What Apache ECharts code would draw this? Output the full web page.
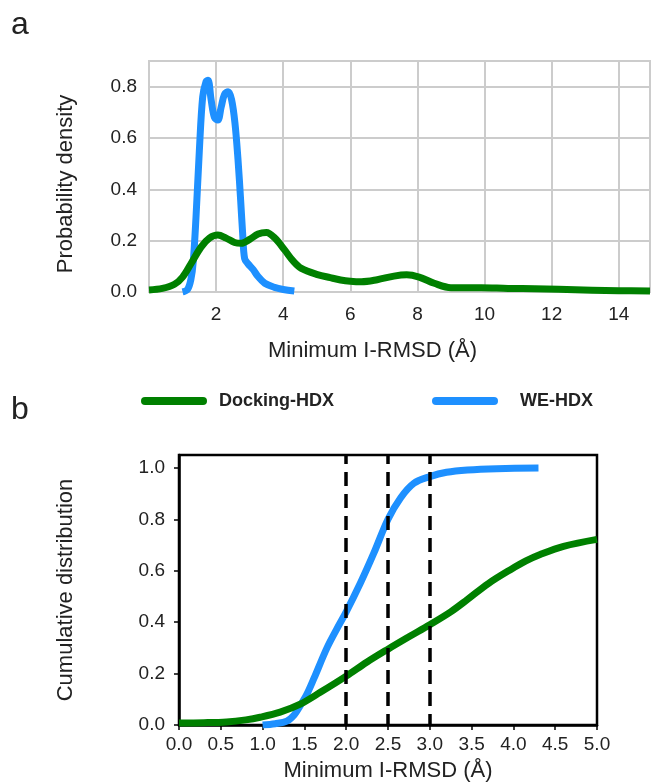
<!DOCTYPE html>
<html><head><meta charset="utf-8">
<script src="https://cdn.jsdelivr.net/npm/echarts@6/dist/echarts.min.js"></script>
<style>html,body{margin:0;padding:0;background:#fff}#c{width:653px;height:783px}</style>
</head><body><div id="c"></div>
<script>
// ---- data ----
const seriesNames = ['Docking-HDX', 'WE-HDX'];

// panel a: probability density vs minimum I-RMSD
const densDockX = [0.0, 0.4, 0.76, 1.0, 1.25, 1.55, 1.8, 2.05, 2.3, 2.55, 2.75, 3.0, 3.25, 3.5, 3.75, 4.04, 4.3, 4.54, 5.02, 5.4, 5.71, 6.0, 6.33, 6.8, 7.3, 7.68, 8.05, 8.5, 9.0, 9.5, 9.9, 10.7, 11.5, 12.2, 13.2, 14.0, 14.93];
const densDockY = [0.008, 0.014, 0.03, 0.058, 0.11, 0.175, 0.21, 0.222, 0.21, 0.193, 0.19, 0.205, 0.226, 0.232, 0.21, 0.164, 0.12, 0.092, 0.068, 0.056, 0.047, 0.042, 0.04, 0.048, 0.062, 0.067, 0.058, 0.034, 0.017, 0.017, 0.017, 0.014, 0.013, 0.011, 0.007, 0.005, 0.004];

const densWeX = [1.0, 1.15, 1.25, 1.32, 1.4, 1.5, 1.6, 1.7, 1.76, 1.85, 1.95, 2.05, 2.15, 2.25, 2.36, 2.46, 2.56, 2.65, 2.73, 2.79, 2.85, 2.95, 3.1, 3.25, 3.45, 3.74, 4.0, 4.33];
const densWeY = [0.0, 0.01, 0.05, 0.12, 0.29, 0.55, 0.76, 0.82, 0.825, 0.75, 0.68, 0.67, 0.72, 0.77, 0.78, 0.75, 0.66, 0.52, 0.36, 0.23, 0.13, 0.11, 0.088, 0.06, 0.034, 0.018, 0.01, 0.004];

// panel b: cumulative distribution
const cdfDockX = [0.0, 0.3, 0.57, 0.8, 0.97, 1.21, 1.45, 1.69, 2.0, 2.25, 2.5, 2.75, 3.0, 3.25, 3.45, 3.7, 3.97, 4.15, 4.32, 4.6, 5.0];
const cdfDockY = [0.008, 0.009, 0.012, 0.02, 0.03, 0.05, 0.081, 0.127, 0.19, 0.245, 0.295, 0.343, 0.39, 0.44, 0.488, 0.55, 0.605, 0.638, 0.663, 0.695, 0.722];

const cdfWeX = [1.0, 1.15, 1.29, 1.38, 1.45, 1.53, 1.61, 1.77, 1.89, 2.0, 2.17, 2.33, 2.5, 2.65, 2.81, 3.0, 3.2, 3.45, 3.8, 4.3];
const cdfWeY = [0.0, 0.005, 0.015, 0.04, 0.075, 0.12, 0.178, 0.3, 0.375, 0.44, 0.552, 0.668, 0.8, 0.883, 0.94, 0.966, 0.983, 0.992, 0.997, 0.999];

const thresholds = [2.0, 2.5, 3.0];

// tick labels
const xTicksA = [2, 4, 6, 8, 10, 12, 14];
const yTicksA = [0.0, 0.2, 0.4, 0.6, 0.8];
const yTicksB = [0.0, 0.2, 0.4, 0.6, 0.8, 1.0];

// ---- chart ----
const zip = (xs, ys) => xs.map((x, i) => [x, ys[i]]);
const FONT = '"Liberation Sans", Arial, sans-serif';
const GREEN = '#008000', BLUE = '#1e90ff', TXT = '#222222';
const legendIcon = 'path://M4 0H62A4 4 0 0 1 62 8H4A4 4 0 0 1 4 0Z';

const chart = echarts.init(document.getElementById('c'), null, {renderer: 'canvas'});

function lineSeries(name, data, color, xi, z) {
  return {
    name: name, type: 'line', data: data, xAxisIndex: xi, yAxisIndex: xi,
    smooth: 0.35, showSymbol: false, symbol: 'none', z: z,
    itemStyle: {color: color},
    lineStyle: {color: color, width: 7, cap: 'butt', join: 'round'},
    emphasis: {disabled: true}
  };
}

const option = {
  animation: false,
  textStyle: {fontFamily: FONT},
  graphic: [
    {type: 'text', left: 11, top: 9, style: {text: 'a', font: '32px ' + FONT, fill: TXT}},
    {type: 'text', left: 11, top: 394, style: {text: 'b', font: '32px ' + FONT, fill: TXT}}
  ],
  legend: [
    {data: [seriesNames[0]], left: 141, top: 392, padding: 0, icon: legendIcon, itemWidth: 66, itemHeight: 8,
     selectedMode: false, textStyle: {fontSize: 18, fontWeight: 'bold', color: TXT, fontFamily: FONT, padding: [0, 0, 0, 7]}},
    {data: [seriesNames[1]], left: 432, top: 392, padding: 0, icon: legendIcon, itemWidth: 66, itemHeight: 8,
     selectedMode: false, textStyle: {fontSize: 18, fontWeight: 'bold', color: TXT, fontFamily: FONT, padding: [0, 0, 0, 17]}}
  ],
  grid: [
    {left: 149, top: 61, width: 501, height: 231, show: true, borderColor: '#cccccc', borderWidth: 2},
    {left: 179, top: 455, width: 418, height: 271, show: true, borderColor: '#000000', borderWidth: 2.5}
  ],
  xAxis: [
    {gridIndex: 0, type: 'value', min: 0, max: 14.93, interval: 2,
     axisLine: {show: false}, axisTick: {show: false, customValues: xTicksA},
     splitLine: {show: true, lineStyle: {color: '#cccccc', width: 2}},
     axisLabel: {customValues: xTicksA, fontSize: 19, color: TXT, margin: 13, fontFamily: FONT},
     name: 'Minimum I-RMSD (Å)', nameLocation: 'middle', nameGap: 48,
     nameTextStyle: {fontSize: 22, color: TXT, fontFamily: FONT, padding: [0, 54, 0, 0]}},
    {gridIndex: 1, type: 'value', min: 0, max: 5, interval: 0.5,
     axisLine: {show: true, lineStyle: {color: '#000', width: 2.5}},
     axisTick: {show: true, length: 5, lineStyle: {color: '#000', width: 1.5}},
     splitLine: {show: false},
     axisLabel: {fontSize: 19, color: TXT, margin: 10, fontFamily: FONT, formatter: v => v.toFixed(1)},
     name: 'Minimum I-RMSD (Å)', nameLocation: 'middle', nameGap: 35,
     nameTextStyle: {fontSize: 22, color: TXT, fontFamily: FONT}}
  ],
  yAxis: [
    {gridIndex: 0, type: 'value', min: 0, max: 0.9, interval: 0.2,
     axisLine: {show: false}, axisTick: {show: false, customValues: yTicksA},
     splitLine: {show: true, lineStyle: {color: '#cccccc', width: 2}},
     axisLabel: {customValues: yTicksA, fontSize: 19, color: TXT, margin: 12, fontFamily: FONT, formatter: v => v.toFixed(1)},
     name: 'Probability density', nameLocation: 'middle', nameGap: 72,
     nameTextStyle: {fontSize: 22, color: TXT, fontFamily: FONT, padding: [0, 15, 0, 0]}},
    {gridIndex: 1, type: 'value', min: 0, max: 1.05, interval: 0.2,
     axisLine: {show: true, lineStyle: {color: '#000', width: 2.5}},
     axisTick: {show: true, length: 5, customValues: yTicksB, lineStyle: {color: '#000', width: 1.5}},
     splitLine: {show: false},
     axisLabel: {customValues: yTicksB, fontSize: 19, color: TXT, margin: 14, fontFamily: FONT, formatter: v => v.toFixed(1)},
     name: 'Cumulative distribution', nameLocation: 'middle', nameGap: 102,
     nameTextStyle: {fontSize: 22, color: TXT, fontFamily: FONT}}
  ],
  series: [
    lineSeries(seriesNames[1], zip(densWeX, densWeY), BLUE, 0, 2),
    lineSeries(seriesNames[0], zip(densDockX, densDockY), GREEN, 0, 3),
    {type: 'line', xAxisIndex: 1, yAxisIndex: 1, data: [], z: 1, silent: true,
     markLine: {silent: true, symbol: 'none', animation: false, label: {show: false},
       emphasis: {disabled: true},
       lineStyle: {color: '#000', type: [14, 8], dashOffset: 3, width: 3.5},
       data: thresholds.map(v => ({xAxis: v}))}},
    lineSeries(seriesNames[1], zip(cdfWeX, cdfWeY), BLUE, 1, 2),
    lineSeries(seriesNames[0], zip(cdfDockX, cdfDockY), GREEN, 1, 3)
  ]
};
chart.setOption(option);
</script>
</body></html>
